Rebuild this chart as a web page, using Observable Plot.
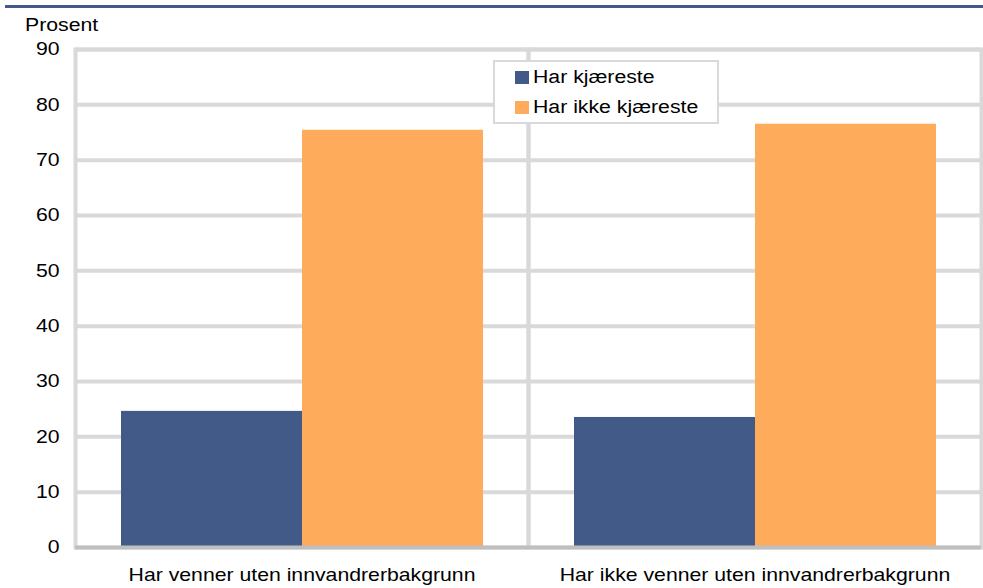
<!DOCTYPE html>
<html>
<head>
<meta charset="utf-8">
<script src="https://cdn.jsdelivr.net/npm/d3@7"></script>
<script src="https://cdn.jsdelivr.net/npm/@observablehq/plot@0.6"></script>
<style>
  html, body { margin: 0; padding: 0; background: white; }
  #wrap { position: relative; width: 983px; height: 588px; font-family: "Liberation Sans", Arial, sans-serif; color: #000; }
  #wrap svg { position: absolute; left: 0; top: 0; }
  .topline { position: absolute; left: 5px; top: 5px; width: 978px; height: 3px; background: #425a8a; }
  .ylabel { position: absolute; left: 25px; top: 15px; font-size: 18px; line-height: 20px; transform: scaleX(1.18); transform-origin: left center; white-space: nowrap; }
  .legend { position: absolute; left: 493px; top: 60px; width: 222px; height: 60px; border: 2px solid #d9d9d9; background: white; }
  .item { position: absolute; left: 20px; height: 20px; display: flex; align-items: center; }
  .sw { width: 14px; height: 13px; margin-right: 4px; }
  .lt { font-size: 18px; line-height: 20px; transform: scaleX(1.18); transform-origin: left center; white-space: nowrap; }
</style>
</head>
<body>
<div id="wrap">
  <div class="topline"></div>
  <div class="ylabel">Prosent</div>
</div>
<script>
const categories = ["Har venner uten innvandrerbakgrunn", "Har ikke venner uten innvandrerbakgrunn"];
const series = ["Har kjæreste", "Har ikke kjæreste"];
const harKjaereste = [24.6, 23.5];
const harIkkeKjaereste = [75.4, 76.5];
const yTicks = [0, 10, 20, 30, 40, 50, 60, 70, 80, 90];
const colors = ["#415a87", "#ffab5c"];

const data = [];
categories.forEach((c, i) => {
  data.push({cat: c, series: series[0], value: harKjaereste[i]});
  data.push({cat: c, series: series[1], value: harIkkeKjaereste[i]});
});

const chart = Plot.plot({
  width: 983,
  height: 588,
  marginLeft: 75,
  marginRight: 2,
  marginTop: 49,
  marginBottom: 41,
  style: {fontFamily: "'Liberation Sans', Arial, sans-serif", fontSize: "18px", color: "#000", background: "transparent", overflow: "visible"},
  fx: {domain: categories, padding: 0, label: null, axis: "bottom", tickSize: 0, tickPadding: 21},
  x: {domain: series, axis: null, paddingInner: 0, paddingOuter: 0.25},
  y: {domain: [0, 90], ticks: yTicks, tickSize: 0, tickPadding: 16, label: null},
  color: {domain: series, range: colors},
  marks: [
    Plot.ruleY(yTicks.slice(1), {stroke: "#d9d9d9", strokeWidth: 4}),
    Plot.frame({stroke: "#d9d9d9", strokeWidth: 4}),
    Plot.barY(data, {fx: "cat", x: "series", y: "value", fill: "series"}),
    Plot.ruleY([0], {stroke: "#bfbfbf", strokeWidth: 4})
  ]
});

// stretch text horizontally around its anchor point to match the reference's wide lettering
chart.querySelectorAll("text").forEach(t => {
  const num = v => (v && !/em$/.test(v)) ? parseFloat(v) || 0 : 0;
  const ax = num(t.getAttribute("x")) + num(t.getAttribute("dx"));
  const tr = t.getAttribute("transform") || "";
  t.setAttribute("transform", `${tr} translate(${ax},0) scale(1.18,1) translate(${-ax},0)`);
});

const wrap = document.getElementById("wrap");
wrap.insertBefore(chart, wrap.firstChild);

const legend = document.createElement("div");
legend.className = "legend";
series.forEach((s, i) => {
  const item = document.createElement("div");
  item.className = "item";
  item.style.top = (i === 0 ? 5 : 35) + "px";
  const sw = document.createElement("div");
  sw.className = "sw";
  sw.style.background = colors[i];
  const lt = document.createElement("span");
  lt.className = "lt";
  lt.textContent = s;
  item.appendChild(sw);
  item.appendChild(lt);
  legend.appendChild(item);
});
wrap.appendChild(legend);
</script>
</body>
</html>
